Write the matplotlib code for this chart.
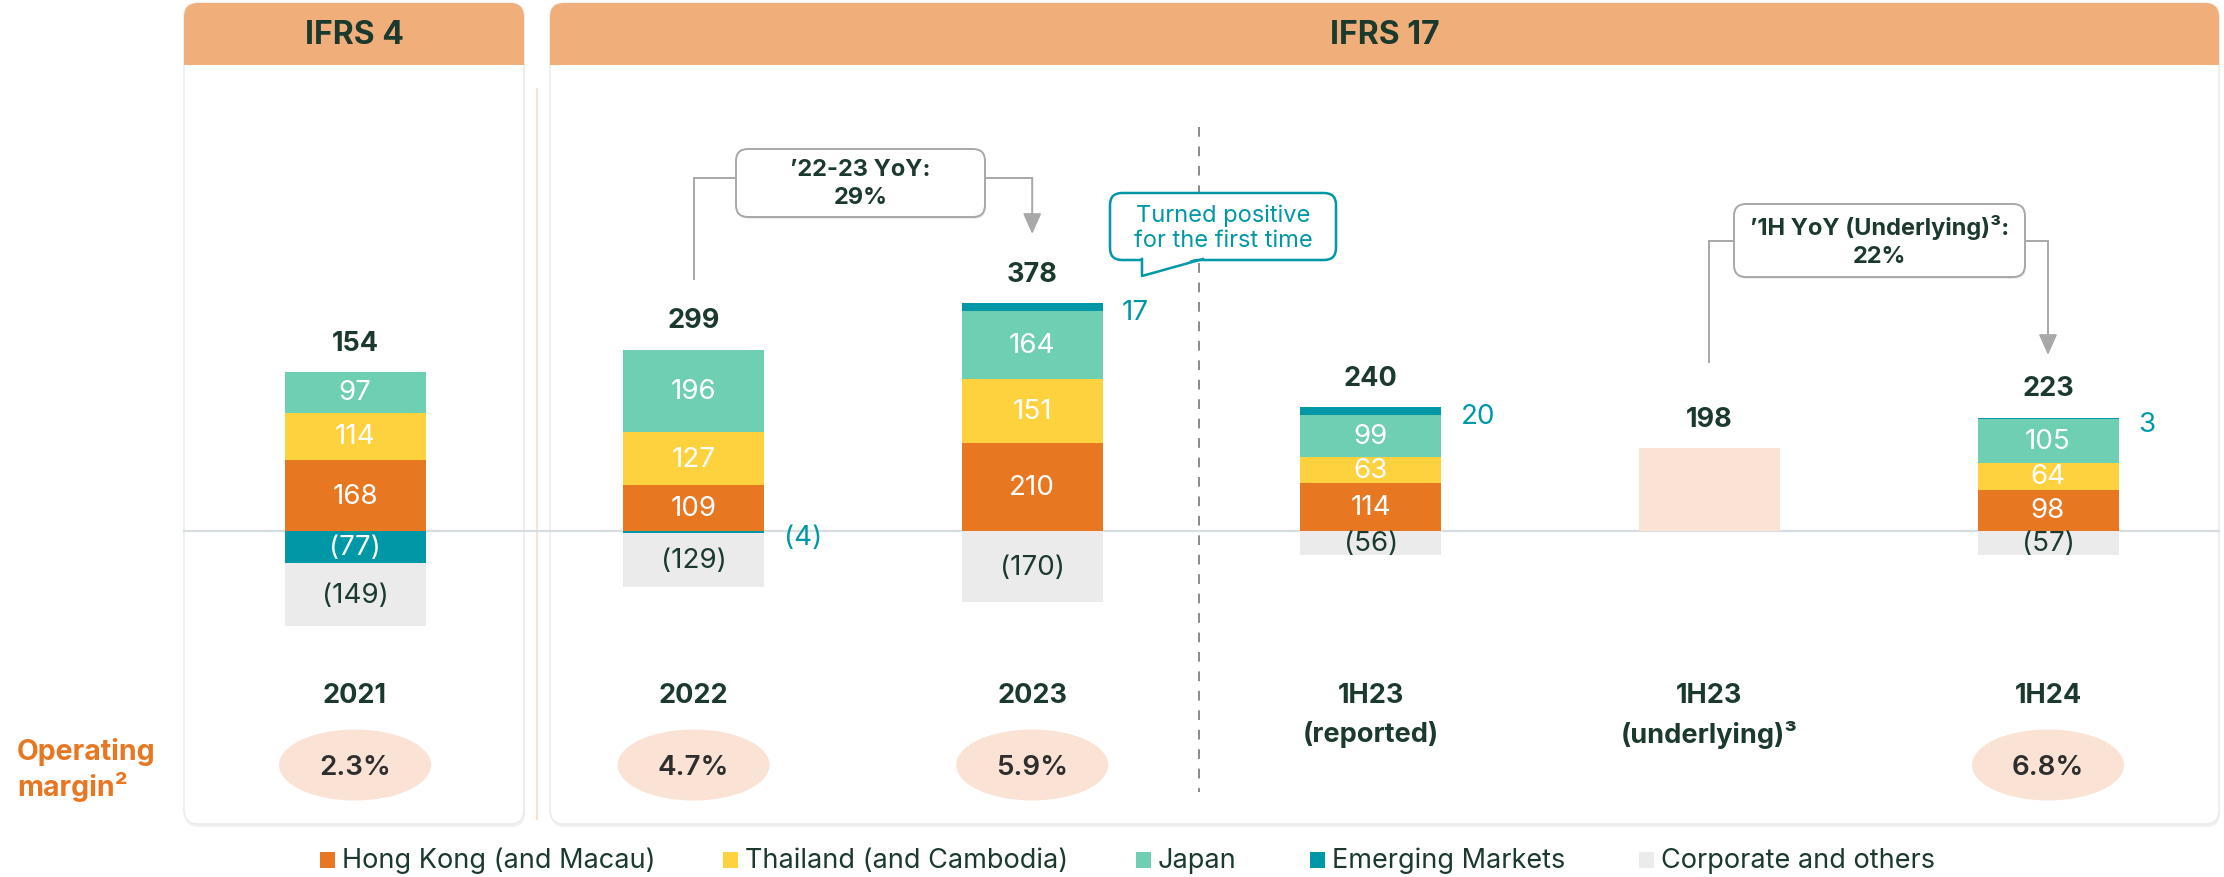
import matplotlib
matplotlib.use('Agg')
import matplotlib.pyplot as plt
import matplotlib.transforms as mtransforms
from matplotlib.patches import FancyBboxPatch, Rectangle, Ellipse, Polygon

plt.rcParams['font.family'] = ['Inter', 'DejaVu Sans']

# data (USD m)
periods = ['2021', '2022', '2023', '1H23', '1H23', '1H24']
period_sub = ['', '', '', '(reported)', '(underlying)³', '']
hong_kong = [168, 109, 210, 114, 0, 98]
thailand = [114, 127, 151, 63, 0, 64]
japan = [97, 196, 164, 99, 0, 105]
emerging = [-77, -4, 17, 20, 0, 3]
corporate = [-149, -129, -170, -56, 0, -57]
underlying = [0, 0, 0, 0, 198, 0]
totals = [154, 299, 378, 240, 198, 223]
op_margin = ['2.3%', '4.7%', '5.9%', '', '', '6.8%']
series_names = ['Hong Kong (and Macau)', 'Thailand (and Cambodia)', 'Japan',
                'Emerging Markets', 'Corporate and others']

c_hk = '#E87722'
c_th = '#FDD23E'
c_jp = '#6ECFB2'
c_em = '#0097A7'
c_corp = '#EBEBEB'
c_und = '#FAE3D4'
c_head = '#F0AE7B'
c_dark = '#1B3A2D'
c_line = '#A8A8A8'

W, H = 2224, 878
fig = plt.figure(figsize=(W / 100, H / 100), dpi=100)
ax = fig.add_axes([0, 0, 1, 1])
ax.patch.set_visible(False)
ax.axis('off')

# x: bar i centred at 355 + 338.6*i px ; y: zero at 346 px from bottom, 0.42 px per unit
step, x0 = 338.6, 355.0
ax.set_xlim(-x0 / step, (W - x0) / step)
ax.set_ylim(-346 / 0.42, (H - 346) / 0.42)

px = mtransforms.Affine2D().scale(1 / W, -1 / H).translate(0, 1) + fig.transFigure
bx = mtransforms.blended_transform_factory(ax.transData, px)

# panels
for (xl, xr, title) in [(184, 524, 'IFRS 4'), (550, 2219, 'IFRS 17')]:
    ax.add_patch(FancyBboxPatch((xl + 1, 7), xr - xl, 821, boxstyle='round,pad=0,rounding_size=14',
                                transform=px, fc='#000000', ec='none', alpha=0.06, zorder=0))
    ax.add_patch(FancyBboxPatch((xl, 4), xr - xl, 821, boxstyle='round,pad=0,rounding_size=14',
                                transform=px, fc='white', ec='#ECECEC', lw=1.2, zorder=0.5))
    ax.add_patch(FancyBboxPatch((xl, 4), xr - xl, 62, boxstyle='round,pad=0,rounding_size=14',
                                transform=px, fc=c_head, ec='none', zorder=1))
    ax.add_patch(Rectangle((xl, 35), xr - xl, 31, transform=px, fc=c_head, ec='none', zorder=1))
    ax.text((xl + xr) / 2, 35, title, transform=px, ha='center', va='center',
            fontsize=23, fontweight='bold', color=c_dark, zorder=2)
ax.plot([537, 537], [90, 820], transform=px, color='#F7D5BD', lw=1.5, alpha=0.7, zorder=0.6)

# zero line and divider
ax.axhline(0, xmin=184 / W, xmax=2219 / W, color='#D8DDE2', lw=1.6, zorder=1.5)
ax.plot([1199, 1199], [128, 793], transform=px, color='#8A8A8A', lw=1.4,
        ls=(0, (5, 5)), zorder=1.5)

# bars
xs = list(range(len(periods)))
bw = 141 / step
for i in xs:
    pos = 0
    neg = 0
    for vals, col, lab_col in [(hong_kong, c_hk, 'white'), (thailand, c_th, 'white'),
                               (japan, c_jp, 'white'), (emerging, c_em, 'white'),
                               (corporate, c_corp, c_dark)]:
        v = vals[i]
        if v == 0:
            continue
        if v > 0:
            ax.bar(i, v, bottom=pos, width=bw, color=col, zorder=3)
            mid = pos + v / 2
            pos += v
            txt = str(v)
        else:
            ax.bar(i, v, bottom=neg, width=bw, color=col, zorder=3)
            mid = neg + v / 2
            neg += v
            txt = '(%d)' % -v
        if vals is emerging and abs(v) < 30:
            ax.annotate(txt, (i + bw / 2, mid), xytext=(14, -4), textcoords='offset points',
                        ha='left', va='center', fontsize=20, color=c_em, zorder=4)
        else:
            ax.text(i, mid, txt, ha='center', va='center', fontsize=20, color=lab_col, zorder=4)
    if underlying[i]:
        ax.bar(i, underlying[i], width=bw, color=c_und, zorder=3)
        pos = underlying[i]
    ax.annotate(str(totals[i]), (i, pos), xytext=(0, 21), textcoords='offset points',
                ha='center', va='center', fontsize=19.5, fontweight='bold', color=c_dark, zorder=4)

# period labels and operating margin
for i in xs:
    ax.text(i, 696, periods[i], transform=bx, ha='center', va='center',
            fontsize=19.5, fontweight='bold', color=c_dark)
    if period_sub[i]:
        ax.text(i, 735, period_sub[i], transform=bx, ha='center', va='center',
                fontsize=19.5, fontweight='bold', color=c_dark)
    if op_margin[i]:
        ax.add_patch(Ellipse((i, 766), 152 / step, 71, transform=bx, fc=c_und, ec='none', zorder=2))
        ax.text(i, 768, op_margin[i], transform=bx, ha='center', va='center',
                fontsize=20, fontweight='semibold', color='#2E2E2E', zorder=3)
ax.text(17, 770, 'Operating\nmargin²', transform=px, ha='left', va='center', fontsize=20.5,
        fontweight='bold', color=c_hk, linespacing=1.25)

# YoY callouts
def callout(xa, xb, y_br, y_start, y_tip, box, text):
    bl, bt, bwid, bh = box
    ax.plot([xa, xa], [y_start, y_br], transform=bx, color=c_line, lw=1.4, zorder=2)
    ax.plot([xa, (bl - x0) / step], [y_br, y_br], transform=bx, color=c_line, lw=1.4, zorder=2)
    ax.plot([(bl + bwid - x0) / step, xb], [y_br, y_br], transform=bx, color=c_line, lw=1.4, zorder=2)
    ax.annotate('', xy=(xb, y_tip), xytext=(xb, y_br), xycoords=bx, textcoords=bx,
                arrowprops=dict(arrowstyle='-|>,head_length=0.9,head_width=0.4', color=c_line,
                                lw=1.4, shrinkA=0, shrinkB=0, mutation_scale=14), zorder=2)
    ax.add_patch(FancyBboxPatch((bl + 1, bt + 2), bwid, bh, boxstyle='round,pad=0,rounding_size=12',
                                transform=px, fc='#000000', ec='none', alpha=0.08, zorder=2))
    ax.add_patch(FancyBboxPatch((bl, bt), bwid, bh, boxstyle='round,pad=0,rounding_size=12',
                                transform=px, fc='white', ec=c_line, lw=1.4, zorder=2.5))
    ax.text(bl + bwid / 2, bt + bh / 2, text, transform=px, ha='center', va='center',
            fontsize=17, fontweight='bold', color=c_dark, linespacing=1.35, zorder=3)

callout(1, 2, 179, 280, 235, (736, 150, 249, 68), '’22-23 YoY:\n29%')
callout(4, 5, 242, 363, 356, (1734, 205, 291, 73), '’1H YoY (Underlying)³:\n22%')

# speech bubble
ax.add_patch(FancyBboxPatch((1110, 194), 226, 67, boxstyle='round,pad=0,rounding_size=12',
                            transform=px, fc='white', ec=c_em, lw=1.8, zorder=2.5))
ax.add_patch(Polygon([(1143, 258), (1143, 277), (1201, 258)], closed=True, transform=px,
                     fc='white', ec='none', zorder=2.6))
ax.plot([1142, 1142, 1203], [260, 277, 260], transform=px, color=c_em, lw=1.8, zorder=2.7)
ax.text(1223, 228, 'Turned positive\nfor the first time', transform=px, ha='center', va='center',
        fontsize=17, color=c_em, linespacing=1.15, zorder=3)

# legend
leg_x = [320, 723, 1136, 1310, 1639]
for name, col, lx in zip(series_names, [c_hk, c_th, c_jp, c_em, c_corp], leg_x):
    ax.add_patch(Rectangle((lx, 853), 15, 16, transform=px, fc=col, ec='none'))
    ax.text(lx + 22, 861, name, transform=px, ha='left', va='center', fontsize=19.5, color=c_dark)

fig.savefig('out.png', dpi=100)
